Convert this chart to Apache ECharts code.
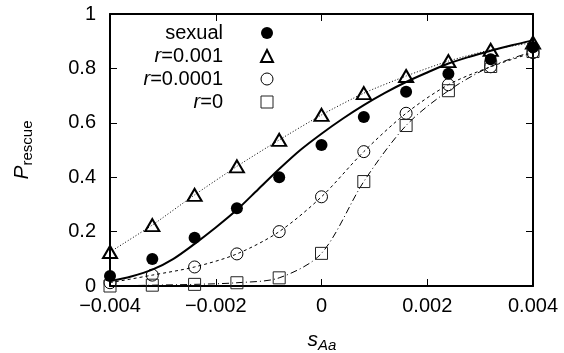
<!DOCTYPE html>
<html>
<head>
<meta charset="utf-8">
<script src="https://cdn.jsdelivr.net/npm/echarts@6/dist/echarts.min.js"></script>
<style>
  html, body { margin: 0; padding: 0; background: #fff; }
  #chart { width: 564px; height: 353px; }
</style>
</head>
<body>
<div id="chart"></div>
<script>
var xTicks = [-0.004, -0.002, 0, 0.002, 0.004];
var yTicks = [0, 0.2, 0.4, 0.6, 0.8, 1];

// simulation points
var sX = [-0.004, -0.0032, -0.0024, -0.0016, -0.0008, 0, 0.0008, 0.0016, 0.0024, 0.0032, 0.004];
var sexual = [0.037, 0.099, 0.177, 0.286, 0.40, 0.518, 0.621, 0.714, 0.78, 0.834, 0.878];
var r001 = [0.125, 0.224, 0.335, 0.44, 0.537, 0.629, 0.709, 0.772, 0.827, 0.868, 0.895];
var r0001 = [0.012, 0.04, 0.07, 0.118, 0.2, 0.328, 0.494, 0.635, 0.74, 0.806, 0.858];
var r0 = [0.0, 0.003, 0.006, 0.012, 0.03, 0.12, 0.384, 0.59, 0.718, 0.807, 0.862];

// analytic curve for the sexual case
var cX = [-0.004, -0.0036, -0.0032, -0.0028, -0.0024, -0.002, -0.0016, -0.0012, -0.0008, -0.0004, 0,
          0.0004, 0.0008, 0.0012, 0.0016, 0.002, 0.0024, 0.0028, 0.0032, 0.0036, 0.004];
var cY = [0.018, 0.035, 0.06, 0.1, 0.155, 0.215, 0.28, 0.355, 0.43, 0.5, 0.56,
          0.615, 0.665, 0.71, 0.75, 0.785, 0.818, 0.843, 0.865, 0.885, 0.903];

function pairs(xs, ys) {
    var out = [];
    for (var i = 0; i < xs.length; i++) out.push([xs[i], ys[i]]);
    return out;
}

var font = 'Liberation Sans';
var chart = echarts.init(document.getElementById('chart'), null, { renderer: 'canvas' });

function axisBase(pos, showLabel, isX) {
    return {
        type: 'value',
        position: pos,
        min: isX ? xTicks[0] : yTicks[0],
        max: isX ? xTicks[xTicks.length - 1] : yTicks[yTicks.length - 1],
        interval: isX ? 0.002 : 0.2,
        axisLine: { show: true, onZero: false, lineStyle: { color: '#000', width: 2 } },
        axisTick: { show: true, inside: true, length: 7, lineStyle: { color: '#000', width: 1 } },
        splitLine: { show: false },
        axisLabel: {
            show: showLabel,
            color: '#000',
            fontSize: 20,
            fontFamily: font,
            margin: isX ? 10 : 14,
            formatter: function (v) {
                if (Math.abs(v) < 1e-12) return '0';
                if (isX) return (v < 0 ? '\u2212' : '') + Math.abs(v).toFixed(3);
                return v === 1 ? '1' : v.toFixed(1);
            }
        }
    };
}

var legendRich = {
    i: { fontStyle: 'italic', fontSize: 20, fontFamily: font, color: '#000' },
    n: { fontSize: 20, fontFamily: font, color: '#000', padding: [0, 33, 0, 0] }
};

var option = {
    backgroundColor: '#fff',
    animation: false,
    grid: { left: 110, right: 31, top: 14, bottom: 67, outerBoundsMode: 'none' },
    xAxis: [axisBase('bottom', true, true), axisBase('top', false, true)],
    yAxis: [axisBase('left', true, false), axisBase('right', false, false)],
    legend: {
        orient: 'vertical',
        align: 'right',
        right: 290,
        top: 23,
        padding: 0,
        itemGap: 3,
        itemWidth: 12,
        itemHeight: 12,
        selectedMode: false,
        textStyle: {
            color: '#000', fontSize: 20, fontFamily: font, lineHeight: 19,
            rich: legendRich
        },
        formatter: function (name) {
            if (name === 'sexual') return '{n|sexual}';
            return '{i|r}{n|' + name.slice(1) + '}';
        },
        data: [
            { name: 'sexual', icon: 'circle', itemStyle: { color: '#000', borderWidth: 0 } },
            { name: 'r=0.001', icon: 'triangle', itemStyle: { color: 'rgba(0,0,0,0)', borderColor: '#000', borderWidth: 2 } },
            { name: 'r=0.0001', icon: 'circle', itemStyle: { color: 'rgba(0,0,0,0)', borderColor: '#000', borderWidth: 1 } },
            { name: 'r=0', icon: 'rect', itemStyle: { color: 'rgba(0,0,0,0)', borderColor: '#222', borderWidth: 1 } }
        ]
    },
    graphic: [
        {
            type: 'text',
            x: 22, y: 150,
            rotation: Math.PI / 2,
            style: {
                text: '{p|P}{s|rescue}',
                align: 'center',
                verticalAlign: 'middle',
                rich: {
                    p: { fontSize: 21, fontStyle: 'italic', fontFamily: font, fill: '#000', lineHeight: 26 },
                    s: { fontSize: 15, fontFamily: font, fill: '#000', lineHeight: 15, verticalAlign: 'bottom' }
                }
            }
        },
        {
            type: 'text',
            x: 322, y: 340,
            style: {
                text: '{p|s}{s|Aa}',
                align: 'center',
                verticalAlign: 'middle',
                rich: {
                    p: { fontSize: 21, fontStyle: 'italic', fontFamily: font, fill: '#000', lineHeight: 26 },
                    s: { fontSize: 15, fontStyle: 'italic', fontFamily: font, fill: '#000', lineHeight: 15, verticalAlign: 'bottom' }
                }
            }
        }
    ],
    series: [
        {
            name: 'curve', type: 'line', smooth: 0.3, showSymbol: false, silent: true,
            lineStyle: { color: '#000', width: 2 },
            data: pairs(cX, cY), z: 2
        },
        {
            name: 'line001', type: 'line', showSymbol: false, silent: true, smooth: 0.2,
            lineStyle: { color: '#000', width: 1, type: [1, 2] },
            data: pairs(sX, r001), z: 2
        },
        {
            name: 'line0001', type: 'line', showSymbol: false, silent: true, smooth: 0.3,
            lineStyle: { color: '#000', width: 1, type: [3, 3] },
            data: pairs(sX, r0001), z: 2
        },
        {
            name: 'line0', type: 'line', showSymbol: false, silent: true, smooth: 0.3,
            lineStyle: { color: '#000', width: 1, type: [7, 3, 1, 3] },
            data: pairs(sX, r0), z: 2
        },
        {
            name: 'sexual', type: 'scatter', symbol: 'circle', symbolSize: 12,
            itemStyle: { color: '#000', opacity: 1 },
            data: pairs(sX, sexual), z: 5
        },
        {
            name: 'r=0.001', type: 'scatter', symbol: 'triangle', symbolSize: [14, 12],
            itemStyle: { color: 'rgba(0,0,0,0)', borderColor: '#000', borderWidth: 2, opacity: 1 },
            data: pairs(sX, r001), z: 4
        },
        {
            name: 'r=0.0001', type: 'scatter', symbol: 'circle', symbolSize: 12,
            itemStyle: { color: 'rgba(0,0,0,0)', borderColor: '#000', borderWidth: 1, opacity: 1 },
            data: pairs(sX, r0001), z: 4
        },
        {
            name: 'r=0', type: 'scatter', symbol: 'rect', symbolSize: 12,
            itemStyle: { color: 'rgba(0,0,0,0)', borderColor: '#222', borderWidth: 1, opacity: 1 },
            data: pairs(sX, r0), z: 4
        }
    ]
};

chart.setOption(option);
</script>
</body>
</html>
